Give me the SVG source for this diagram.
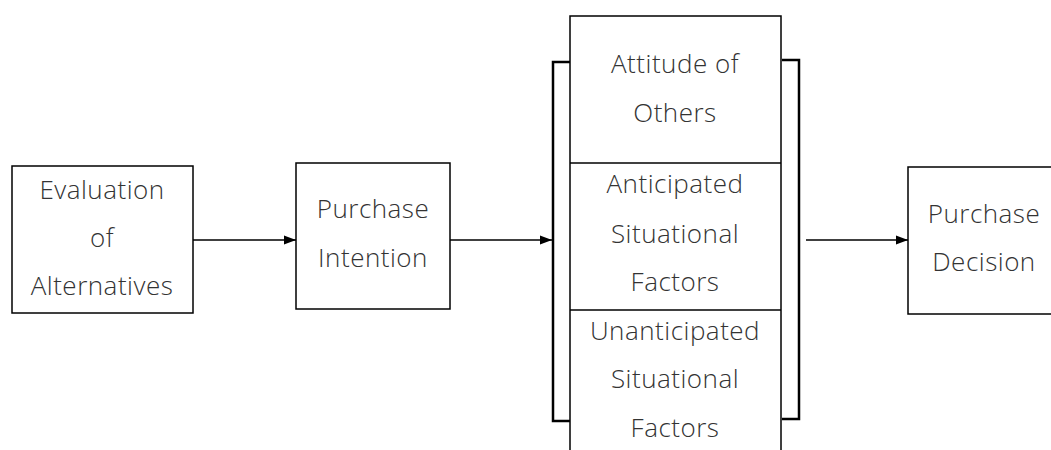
<svg xmlns="http://www.w3.org/2000/svg" width="1051" height="450" viewBox="0 0 1051 450">
<style>
.box{fill:#fff;stroke:#000;stroke-width:1.5}
.t{font-family:"Open Sans","Noto Sans",sans-serif;font-size:26px;font-weight:300;letter-spacing:0.5px;fill:#333;text-anchor:middle}
.c{stroke:#000;stroke-width:1.5;fill:none}
.br{stroke:#000;stroke-width:2.5;fill:none}
</style>
<defs>
<marker id="ah" viewBox="0 0 12 10" refX="12" refY="5" markerWidth="12" markerHeight="10" markerUnits="userSpaceOnUse" orient="auto">
<path d="M0,0.5 L12,5 L0,9.5 Z" fill="#000"/>
</marker>
</defs>
<rect width="1051" height="450" fill="#fff"/>
<g id="eval">
<rect class="box" x="12" y="166" width="181" height="147"/>
<text class="t" x="102" y="199">Evaluation</text>
<text class="t" x="102" y="247">of</text>
<text class="t" x="102" y="295">Alternatives</text>
</g>
<g id="intention">
<rect class="box" x="296" y="163" width="154" height="146"/>
<text class="t" x="373" y="218">Purchase</text>
<text class="t" x="373" y="267">Intention</text>
</g>
<g id="factors">
<rect class="box" x="570" y="16" width="211" height="450"/>
<line class="c" x1="570" y1="163" x2="781" y2="163"/>
<line class="c" x1="570" y1="310" x2="781" y2="310"/>
<text class="t" x="675" y="73">Attitude of</text>
<text class="t" x="675" y="122">Others</text>
<text class="t" x="675" y="193">Anticipated</text>
<text class="t" x="675" y="243">Situational</text>
<text class="t" x="675" y="291">Factors</text>
<text class="t" x="675" y="340">Unanticipated</text>
<text class="t" x="675" y="388">Situational</text>
<text class="t" x="675" y="437">Factors</text>
<path class="br" d="M570,62 H553 V421 H570"/>
<path class="br" d="M782,60 H799 V419 H782"/>
</g>
<g id="decision">
<rect class="box" x="908" y="167" width="160" height="147"/>
<text class="t" x="984" y="223">Purchase</text>
<text class="t" x="984" y="271">Decision</text>
</g>
<g id="connectors">
<line class="c" x1="193" y1="240" x2="296" y2="240" marker-end="url(#ah)"/>
<line class="c" x1="450" y1="240" x2="552" y2="240" marker-end="url(#ah)"/>
<line class="c" x1="806" y1="240" x2="908" y2="240" marker-end="url(#ah)"/>
</g>
</svg>
